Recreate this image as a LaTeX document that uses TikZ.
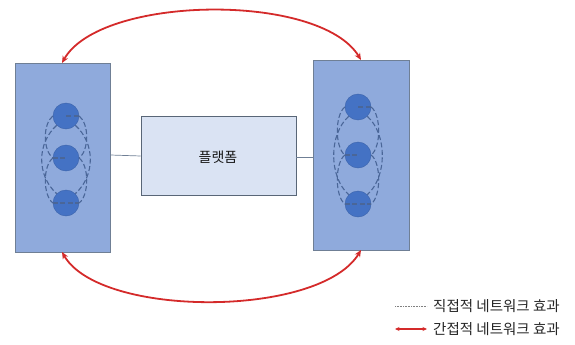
\documentclass[tikz,border=0pt]{standalone}
\usepackage{fontspec}
\newfontfamily\kr{Noto Sans CJK KR}
\usetikzlibrary{arrows.meta}
\definecolor{panel}{HTML}{8FAADC}
\definecolor{panelborder}{HTML}{6F7F95}
\definecolor{dot}{HTML}{4472C4}
\definecolor{dotborder}{HTML}{3A62AA}
\definecolor{platform}{HTML}{DAE3F3}
\definecolor{arrowred}{HTML}{D42A2A}
\definecolor{dash}{HTML}{4A6698}
\tikzset{
  panelbox/.style={draw=panelborder, fill=panel, line width=0.8pt},
  platbox/.style={draw=panelborder!80!black, fill=platform, line width=0.8pt},
  user/.style={circle, fill=dot, draw=dotborder, minimum size=26pt, inner sep=0pt},
  link/.style={draw=dash, line width=1.1pt, dash pattern=on 5pt off 2.5pt},
  conn/.style={draw=panelborder, line width=0.7pt},
  indirect/.style={draw=arrowred, line width=1.8pt, {Stealth[length=7pt,width=6pt]}-{Stealth[length=7pt,width=6pt]}},
  lbl/.style={font=\kr\fontsize{14.5pt}{16pt}\selectfont, text=black!85, anchor=west, inner sep=0pt}
}
\begin{document}
\begin{tikzpicture}[x=1pt,y=-1pt]
\useasboundingbox (0,0) rectangle (575,345);
% panels
\node[panelbox, minimum width=95pt, minimum height=189pt, inner sep=0pt] (L) at (62.5,157.5) {};
\node[panelbox, minimum width=96pt, minimum height=190pt, inner sep=0pt] (R) at (361,155) {};
\node[platbox, minimum width=155pt, minimum height=79pt, inner sep=0pt] (P) at (218.5,155.5) {};
\node[font=\kr\fontsize{14pt}{16pt}\selectfont, text=black!90] (Pt) at (218,157) {플랫폼};
% connectors
\draw[conn] (L.east |- 0,155) -- (P.west |- 0,156);
\draw[conn] (P.east |- 0,157) -- (R.west |- 0,157);
% users left
\node[user] (l1) at (66,116) {};
\node[user] (l2) at (66,158) {};
\node[user] (l3) at (66,203) {};
% users right
\node[user] (r1) at (358,107) {};
\node[user] (r2) at (358,155) {};
\node[user] (r3) at (358,204) {};
% direct effects (dashed)
\foreach \a in {l,r} {
  \draw[link] (\a1.west) .. controls +(-10,8) and +(-10,-8) .. (\a2.west);
  \draw[link] (\a1.east) .. controls +(10,8) and +(10,-8) .. (\a2.east);
  \draw[link] (\a2.west) .. controls +(-10,8) and +(-10,-8) .. (\a3.west);
  \draw[link] (\a2.east) .. controls +(10,8) and +(10,-8) .. (\a3.east);
  \draw[link] (\a1.south west) .. controls +(-20,18) and +(-20,-18) .. (\a3.north west);
  \draw[link] (\a1.south east) .. controls +(20,18) and +(20,-18) .. (\a3.north east);
  \draw[link] (\a1.center) -- (\a1.east);
  \draw[link] (\a2.west) -- (\a2.center);
  \draw[link] (\a3.west) -- (\a3.east);
}
% indirect effects
\coordinate (Lt) at (62,63);
\coordinate (Rt) at (361,60);
\coordinate (Lb) at (62,252);
\coordinate (Rb) at (361,250);
\draw[indirect] (Lt) .. controls (100,-5) and (320,-8) .. (Rt);
\draw[indirect] (Lb) .. controls (100,318) and (320,318) .. (Rb);
% legend
\coordinate (d1) at (395,306);
\coordinate (d2) at (427,306);
\draw[draw=gray, line width=0.6pt, densely dotted] (d1) -- (d2);
\node[lbl] (t1) at (433,306) {직접적 네트워크 효과};
\coordinate (i1) at (395,329);
\coordinate (i2) at (427,329);
\draw[draw=arrowred, line width=1.1pt, {Stealth[length=4.5pt,width=4pt]}-{Stealth[length=4.5pt,width=4pt]}] (i1) -- (i2);
\node[lbl] (t2) at (433,329) {간접적 네트워크 효과};
\end{tikzpicture}
\end{document}
